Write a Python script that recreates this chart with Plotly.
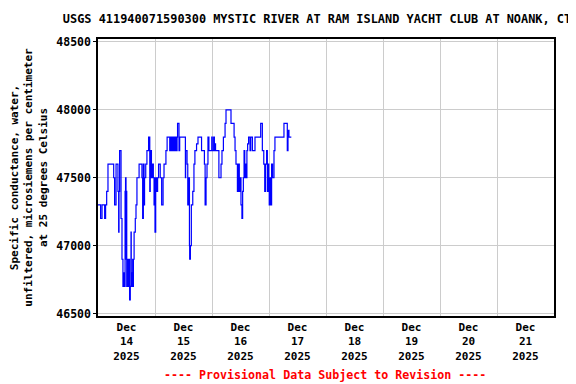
import pandas as pd
import plotly.graph_objects as go

# Hours since 2025-12-14 00:00 at which the reading changes (step series)
hours = [0.0, 1.1, 1.7, 2.8, 3.2, 3.65, 4.2, 6.6, 7.0, 7.6, 8.4, 8.7, 8.85, 9.1, 9.7,
         10.1, 10.5, 10.8, 11.1, 11.4, 11.6, 11.8, 11.9, 12.1, 12.5, 12.8, 13.0, 13.3,
         13.6, 13.9, 14.0, 14.3, 14.6, 14.7, 14.9, 15.2, 15.7, 16.0, 16.4, 17.3, 18.5,
         18.8, 19.1, 19.4, 19.6, 20.1, 20.6, 21.3, 21.8, 22.0, 22.5, 22.9, 23.3, 23.6,
         23.9, 24.0, 24.3, 24.8, 25.1, 25.5, 26.2, 26.8, 27.4, 27.8, 28.6, 29.1, 30.2,
         30.6, 31.0, 31.4, 31.9, 32.4, 32.8, 33.3, 33.5, 34.1, 34.4, 36.8, 36.9, 37.5,
         37.8, 38.2, 38.5, 38.6, 38.9, 39.3, 39.9, 40.4, 40.8, 41.5, 42.1, 43.6, 44.8,
         45.1, 45.5, 45.9, 46.3, 46.7, 47.9, 48.1, 48.7, 49.0, 49.3, 49.5, 50.9, 51.8,
         52.2, 52.8, 53.5, 53.9, 56.0, 57.3, 57.7, 58.1, 58.7, 59.1, 59.5, 59.9, 60.2,
         60.6, 60.9, 61.2, 61.5, 61.8, 62.0, 62.3, 62.7, 63.0, 63.4, 64.0, 64.3, 65.0,
         66.1, 68.5, 69.2, 69.8, 70.2, 70.5, 71.0, 71.3, 71.6, 71.9, 72.1, 72.4, 72.8,
         73.1, 73.5, 74.1, 74.5, 78.3, 79.7, 80.0, 80.4, 81.4]
conductance = [47300, 47200, 47300, 47200, 47300, 47400, 47600, 47500, 47300, 47600, 47400,
               47100, 47400, 47700, 47200, 46900, 46700, 46800, 46700, 47400, 47500, 46900,
               47400, 46700, 46900, 46700, 46900, 46600, 46700, 47100, 46800, 46700, 46900,
               46700, 46900, 47100, 47200, 47300, 47500, 47600, 47500, 47200, 47600, 47300,
               47500, 47600, 47700, 47800, 47400, 47700, 47500, 47600, 47500, 47300, 47500,
               47100, 47500, 47400, 47500, 47600, 47500, 47300, 47500, 47600, 47700, 47800,
               47700, 47800, 47700, 47800, 47700, 47800, 47700, 47800, 47900, 47700, 47800,
               47500, 47700, 47600, 47300, 47500, 47000, 46900, 47000, 47300, 47400, 47600,
               47700, 47750, 47800, 47700, 47600, 47300, 47500, 47600, 47800, 47700, 47800,
               47700, 47800, 47700, 47750, 47700, 47500, 47600, 47700, 47800, 47900, 48000,
               47900, 47800, 47700, 47600, 47400, 47600, 47400, 47500, 47300, 47200, 47400,
               47500, 47700, 47500, 47600, 47500, 47700, 47750, 47800, 47700, 47800, 47700,
               47800, 47900, 47700, 47600, 47400, 47600, 47700, 47400, 47600, 47400, 47300,
               47500, 47300, 47600, 47500, 47700, 47800, 47900, 47700, 47850, 47800, 47800]

day_ticks = ["2025-12-14 12:00", "2025-12-15 12:00", "2025-12-16 12:00", "2025-12-17 12:00",
             "2025-12-18 12:00", "2025-12-19 12:00", "2025-12-20 12:00", "2025-12-21 12:00"]
day_labels = ["Dec<br>14<br>2025", "Dec<br>15<br>2025", "Dec<br>16<br>2025", "Dec<br>17<br>2025",
              "Dec<br>18<br>2025", "Dec<br>19<br>2025", "Dec<br>20<br>2025", "Dec<br>21<br>2025"]
day_bounds = ["2025-12-15", "2025-12-16", "2025-12-17", "2025-12-18", "2025-12-19",
              "2025-12-20", "2025-12-21"]
y_ticks = [46500, 47000, 47500, 48000, 48500]
y_labels = ["46500", "47000", "47500", "48000", "48500"]

start = pd.Timestamp("2025-12-14 00:00")
times = [start + pd.Timedelta(hours=h) for h in hours]

FONT = "DejaVu Sans Mono"
W, H = 568, 376  # page body adds an 8px offset

fig = go.Figure()
fig.add_trace(go.Scatter(x=times, y=conductance, mode="lines",
                         line=dict(color="#0000ff", width=1.2, shape="hv"),
                         showlegend=False))

fig.update_layout(
    width=W, height=H,
    margin=dict(l=90, r=22, t=31, b=68, autoexpand=False),
    paper_bgcolor="white", plot_bgcolor="white",
    font=dict(family=FONT, size=11, color="black", weight="bold"),
    title=dict(text="USGS 411940071590300 MYSTIC RIVER AT RAM ISLAND YACHT CLUB AT NOANK, CT",
               x=309 / W, xref="container", xanchor="center",
               y=1 - 11 / H, yref="container", yanchor="middle",
               font=dict(family=FONT, size=11.9, color="black", weight="bold")),
    xaxis=dict(range=["2025-12-14", "2025-12-22"], type="date", automargin=False,
               tickmode="array", tickvals=day_ticks, ticktext=day_labels,
               showgrid=False, ticks="", showline=True, linecolor="black",
               linewidth=1.5, mirror=True, zeroline=False,
               tickfont=dict(family=FONT, size=11, weight="bold"),
               minor=dict(tickmode="array", tickvals=day_bounds, showgrid=True,
                          gridcolor="#cccccc", gridwidth=1, ticks="")),
    yaxis=dict(range=[46482, 48522], tickmode="array", tickvals=y_ticks, ticktext=y_labels,
               automargin=False,
               showgrid=True, gridcolor="#cccccc", gridwidth=1,
               ticks="outside", ticklen=3, tickcolor="black",
               showline=True, linecolor="black", linewidth=1.5, mirror=True,
               zeroline=False, tickfont=dict(family=FONT, size=11.5, weight="bold"),
               title=dict(text="Specific conductance, water,<br>unfiltered, microsiemens per centimeter<br>at 25 degrees Celsius",
                          font=dict(family=FONT, size=11, weight="bold"), standoff=15)),
    annotations=[dict(text="---- Provisional Data Subject to Revision ----",
                      x=0.498, xref="paper", y=-0.213, yref="paper",
                      xanchor="center", yanchor="middle", showarrow=False,
                      font=dict(family=FONT, size=11.65, color="red", weight="bold"))],
)

fig.write_html("out.html")
